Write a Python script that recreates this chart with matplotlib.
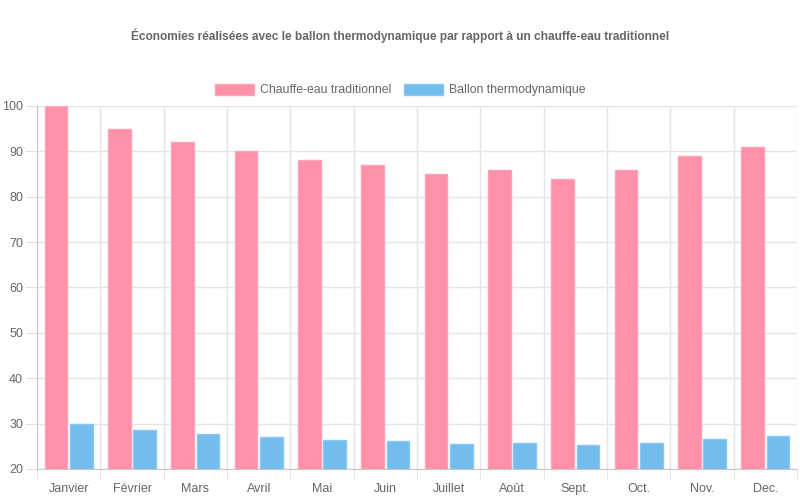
import numpy as np
import matplotlib
matplotlib.use("Agg")
import matplotlib.pyplot as plt

plt.rcParams['font.family'] = ['Liberation Sans', 'DejaVu Sans']

mois = ["Janvier", "Février", "Mars", "Avril", "Mai", "Juin",
        "Juillet", "Août", "Sept.", "Oct.", "Nov.", "Dec."]
traditionnel = [100, 95, 92, 90, 88, 87, 85, 86, 84, 86, 89, 91]
thermo = [30, 28.5, 27.8, 27, 26.4, 26.1, 25.5, 25.8, 25.2, 25.8, 26.7, 27.3]

pink = "#FF91A8"
pink_edge = "#FFA3B6"
blue = "#72BCEE"
blue_edge = "#88C8F2"
grey = "#666666"

fig = plt.figure(figsize=(8, 5), dpi=100)
ax = fig.add_axes([37 / 800, 1 - 469 / 500, 760 / 800, 363 / 500])

x = np.arange(len(mois))
w = 0.36
ax.bar(x - 0.2, traditionnel, w, color=pink, edgecolor=pink_edge, linewidth=1,
       label="Chauffe-eau traditionnel", zorder=3)
ax.bar(x + 0.2, thermo, w, color=blue, edgecolor=blue_edge, linewidth=1,
       label="Ballon thermodynamique", zorder=3)

ax.set_xlim(-0.5, len(mois) - 0.5)
ax.set_ylim(20, 100)
ax.set_yticks(range(20, 101, 10))
ax.set_xticks(x)
ax.set_xticklabels(mois)
ax.set_xticks(np.arange(-0.5, len(mois)), minor=True)

ax.grid(True, axis="y", color="#E5E5E5", linewidth=1, zorder=0)
ax.grid(True, axis="x", which="minor", color="#E5E5E5", linewidth=1, zorder=0)
ax.grid(False, axis="x", which="major")

for s in ["top", "right"]:
    ax.spines[s].set_visible(False)
for s in ["left", "bottom"]:
    ax.spines[s].set_color("#C8C8C8")

ax.tick_params(axis="x", which="major", length=0, pad=10, labelsize=9, labelcolor=grey)
ax.tick_params(axis="x", which="minor", length=8, color="#E0E0E0")
ax.tick_params(axis="y", length=8, color="#E0E0E0", pad=2, labelsize=9, labelcolor=grey)

fig.text(0.5, 1 - 36 / 500, "Économies réalisées avec le ballon thermodynamique par rapport à un chauffe-eau traditionnel",
         ha="center", va="center", fontsize=8.6, fontweight="bold", color=grey)

fig.legend(loc="center", bbox_to_anchor=(0.5, 1 - 90 / 500), ncol=2, frameon=False,
           fontsize=8.8, labelcolor=grey, handlelength=3.2, handleheight=1.0,
           handletextpad=0.5, columnspacing=1.0, borderaxespad=0)

fig.savefig("out.png", dpi=100)
